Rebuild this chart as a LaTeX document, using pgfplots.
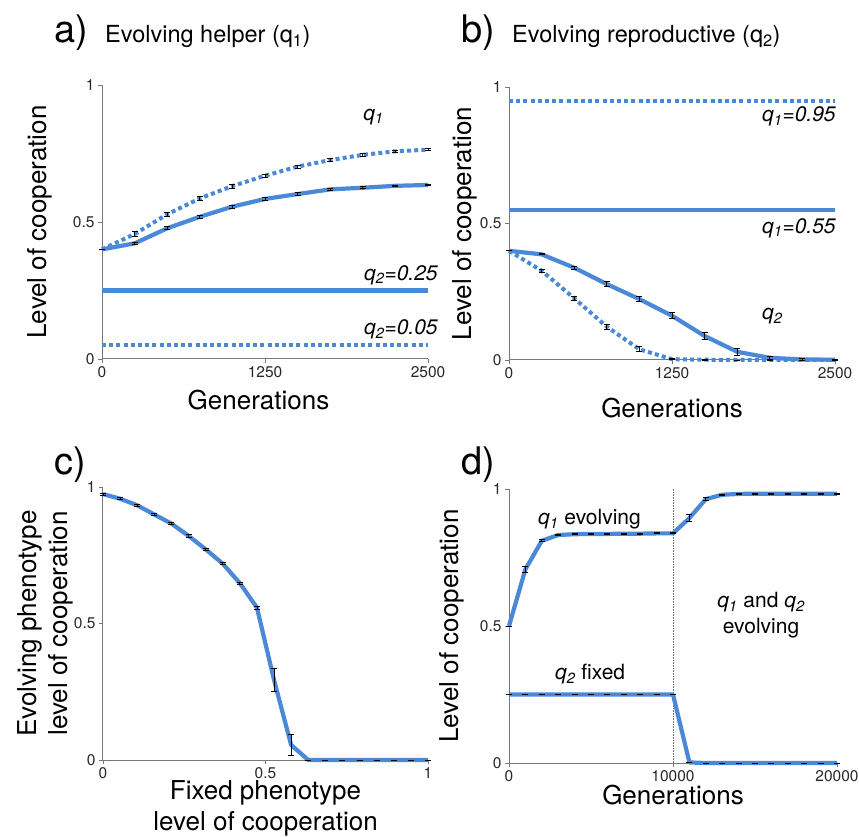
\documentclass[border=0pt]{standalone}
\usepackage{fontspec}
\setmainfont{TeX Gyre Heros}
\usepackage{pgfplots}
\pgfplotsset{compat=1.18}
\definecolor{bl}{RGB}{74,137,216}
\definecolor{axg}{RGB}{120,120,120}
\definecolor{tkc}{RGB}{40,40,40}
\pgfplotsset{
  panel/.style={scale only axis, axis lines=left, axis line style={-, draw=axg, line width=1pt},
    ymin=0, ymax=1, ytick={0,0.5,1}, yticklabels={0,0.5,1}, tick align=outside, major tick length=4pt,
    tick style={draw=axg, line width=0.8pt}, ticklabel style={font=\fontsize{15.5}{15.5}\selectfont, text=tkc},
    scaled ticks=false, /pgf/number format/assume math mode=true, /pgf/number format/1000 sep={},
    label style={font=\fontsize{26}{31}\selectfont, align=center}, clip=false, enlargelimits=false},
  eb/.style={error bars/.cd, y dir=both, y explicit, error bar style={black, line width=0.9pt, solid},
    error mark options={black, line width=0.9pt, mark size=3pt, solid, rotate=90}},
  sol/.style={bl, line width=4.2pt, line join=round, mark=none},
  dot/.style={bl, line width=4pt, dash pattern=on 4pt off 3.2pt, mark=none},
}
\tikzset{ann/.style={font=\fontsize{21}{21}\selectfont\itshape, anchor=base west, inner sep=0pt}}
\begin{document}
\begin{tikzpicture}
\useasboundingbox (0pt,0pt) rectangle (859pt,836pt);
% panel letters and titles
\node[anchor=base west, inner sep=0pt, font=\fontsize{38}{38}\selectfont] at (54pt,793pt) {a)};
\node[anchor=base west, inner sep=0pt, font=\fontsize{23.5}{23.5}\selectfont] at (105pt,793pt) {Evolving helper (q\textsubscript{1})};
\node[anchor=base west, inner sep=0pt, font=\fontsize{38}{38}\selectfont] at (461pt,793pt) {b)};
\node[anchor=base west, inner sep=0pt, font=\fontsize{23.5}{23.5}\selectfont] at (512pt,793pt) {Evolving reproductive (q\textsubscript{2})};
\node[anchor=base west, inner sep=0pt, font=\fontsize{38}{38}\selectfont] at (54pt,361pt) {c)};
\node[anchor=base west, inner sep=0pt, font=\fontsize{38}{38}\selectfont] at (461pt,361pt) {d)};

% ---------- a ----------
\begin{axis}[panel, at={(102pt,477pt)}, anchor=south west, width=326pt, height=274pt,
  xmin=0, xmax=2500, xtick={0,1250,2500},
  xlabel={Generations}, ylabel={Level of cooperation},
  xlabel style={at={(axis description cs:0.48,-0.15)}, anchor=center},
  ylabel style={at={(axis description cs:-0.19,0.5)}, anchor=center}]
\addplot[sol] coordinates {(0,0.25)(2500,0.25)};
\addplot[dot] coordinates {(0,0.05)(2500,0.05)};
\addplot[dot, eb] coordinates {
(0,0.400) +- (0,0)
(250,0.456) +- (0,0.008)
(500,0.528) +- (0,0.008)
(750,0.586) +- (0,0.008)
(1000,0.631) +- (0,0.007)
(1250,0.669) +- (0,0.006)
(1500,0.702) +- (0,0.006)
(1750,0.726) +- (0,0.005)
(2000,0.745) +- (0,0.005)
(2250,0.758) +- (0,0.004)
(2500,0.764) +- (0,0.003)};
\addplot[sol, eb] coordinates {
(0,0.400) +- (0,0)
(250,0.422) +- (0,0.004)
(500,0.477) +- (0,0.006)
(750,0.519) +- (0,0.006)
(1000,0.556) +- (0,0.006)
(1250,0.584) +- (0,0.005)
(1500,0.602) +- (0,0.005)
(1750,0.619) +- (0,0.004)
(2000,0.625) +- (0,0.004)
(2250,0.632) +- (0,0.003)
(2500,0.635) +- (0,0.003)};
\node[ann] at (axis cs:2002,0.872) {q\textsubscript{1}};
\node[ann] at (axis cs:2009,0.288) {q\textsubscript{2}=0.25};
\node[ann] at (axis cs:2009,0.088) {q\textsubscript{2}=0.05};
\end{axis}

% ---------- b ----------
\begin{axis}[panel, at={(509pt,476pt)}, anchor=south west, width=326pt, height=273pt,
  xmin=0, xmax=2500, xtick={0,1250,2500},
  xlabel={Generations}, ylabel={Level of cooperation},
  xlabel style={at={(axis description cs:0.5,-0.176)}, anchor=center},
  ylabel style={at={(axis description cs:-0.135,0.5)}, anchor=center}]
\addplot[dot] coordinates {(0,0.95)(2500,0.95)};
\addplot[sol] coordinates {(0,0.55)(2500,0.55)};
\addplot[dot, eb] coordinates {
(0,0.400) +- (0,0)
(250,0.327) +- (0,0.005)
(500,0.226) +- (0,0.008)
(750,0.122) +- (0,0.009)
(1000,0.039) +- (0,0.009)
(1250,0.003) +- (0,0.002)
(1500,0.001) +- (0,0.001)
(1750,0.000) +- (0,0)
(2000,0.000) +- (0,0)
(2250,0.000) +- (0,0)
(2500,0.000) +- (0,0)};
\addplot[sol, eb] coordinates {
(0,0.400) +- (0,0)
(250,0.387) +- (0,0.002)
(500,0.338) +- (0,0.005)
(750,0.278) +- (0,0.008)
(1000,0.223) +- (0,0.009)
(1250,0.162) +- (0,0.011)
(1500,0.088) +- (0,0.013)
(1750,0.030) +- (0,0.012)
(2000,0.008) +- (0,0.005)
(2250,0.002) +- (0,0.002)
(2500,0.001) +- (0,0.001)};
\node[ann] at (axis cs:1940,0.872) {q\textsubscript{1}=0.95};
\node[ann] at (axis cs:1940,0.465) {q\textsubscript{1}=0.55};
\node[ann] at (axis cs:1940,0.147) {q\textsubscript{2}};
\end{axis}

% ---------- c ----------
\begin{axis}[panel, at={(103pt,76pt)}, anchor=south west, width=325pt, height=273pt,
  xmin=0, xmax=1, xtick={0,0.5,1}, xticklabels={0,0.5,1},
  xlabel={Fixed phenotype\\level of cooperation}, ylabel={Evolving phenotype\\level of cooperation},
  xlabel style={at={(axis description cs:0.5,-0.176)}, anchor=center},
  ylabel style={at={(axis description cs:-0.178,0.5)}, anchor=center}]
\addplot[sol, eb] coordinates {
(0.0000,0.974) +- (0,0.004)
(0.0526,0.957) +- (0,0.004)
(0.1053,0.933) +- (0,0.004)
(0.1579,0.899) +- (0,0.004)
(0.2105,0.866) +- (0,0.004)
(0.2632,0.821) +- (0,0.004)
(0.3158,0.772) +- (0,0.004)
(0.3684,0.719) +- (0,0.004)
(0.4211,0.648) +- (0,0.004)
(0.4737,0.558) +- (0,0.005)
(0.5263,0.293) +- (0,0.042)
(0.5789,0.055) +- (0,0.040)
(0.6316,0.000) +- (0,0)
(0.6842,0.000) +- (0,0)
(0.7368,0.000) +- (0,0)
(0.7895,0.000) +- (0,0)
(0.8421,0.000) +- (0,0)
(0.8947,0.000) +- (0,0)
(0.9474,0.000) +- (0,0)
(1.0000,0.000) +- (0,0)};
\end{axis}

% ---------- d ----------
\begin{axis}[panel, at={(509pt,73pt)}, anchor=south west, width=328pt, height=274pt,
  xmin=0, xmax=20000, xtick={0,10000,20000},
  xlabel={Generations}, ylabel={Level of cooperation},
  xlabel style={at={(axis description cs:0.5,-0.117)}, anchor=center},
  ylabel style={at={(axis description cs:-0.174,0.5)}, anchor=center}]
\addplot[densely dotted, color=axg, line width=0.6pt, mark=none] coordinates {(10000,0)(10000,1)};
\addplot[sol, eb] coordinates {
(0,0.500) +- (0,0)
(1000,0.707) +- (0,0.010)
(2000,0.811) +- (0,0.004)
(3000,0.832) +- (0,0.003)
(4000,0.835) +- (0,0.002)
(5000,0.836) +- (0,0.002)
(6000,0.836) +- (0,0.002)
(7000,0.837) +- (0,0.002)
(8000,0.837) +- (0,0.002)
(9000,0.838) +- (0,0.002)
(10000,0.838) +- (0,0.002)
(11000,0.894) +- (0,0.012)
(12000,0.963) +- (0,0.005)
(13000,0.979) +- (0,0.002)
(14000,0.982) +- (0,0.002)
(15000,0.983) +- (0,0.002)
(16000,0.983) +- (0,0.002)
(17000,0.983) +- (0,0.002)
(18000,0.983) +- (0,0.002)
(19000,0.983) +- (0,0.002)
(20000,0.983) +- (0,0.002)};
\addplot[sol, eb] coordinates {
(0,0.250) +- (0,0)
(1000,0.250) +- (0,0)
(2000,0.250) +- (0,0)
(3000,0.250) +- (0,0)
(4000,0.250) +- (0,0)
(5000,0.250) +- (0,0)
(6000,0.250) +- (0,0)
(7000,0.250) +- (0,0)
(8000,0.250) +- (0,0)
(9000,0.250) +- (0,0)
(10000,0.250) +- (0,0)
(11000,0.002) +- (0,0.001)
(12000,0.000) +- (0,0)
(13000,0.000) +- (0,0)
(14000,0.000) +- (0,0)
(15000,0.000) +- (0,0)
(16000,0.000) +- (0,0)
(17000,0.000) +- (0,0)
(18000,0.000) +- (0,0)
(19000,0.000) +- (0,0)
(20000,0.000) +- (0,0)};
\node[ann] at (axis cs:1768,0.869) {q\textsubscript{1}\upshape\ evolving};
\node[ann] at (axis cs:2805,0.303) {q\textsubscript{2}\upshape\ fixed};
\node[ann, anchor=base] at (axis cs:15366,0.566) {q\textsubscript{1}\upshape{} and \itshape q\textsubscript{2}};
\node[ann, anchor=base] at (axis cs:15366,0.474) {\upshape evolving};
\end{axis}
\end{tikzpicture}
\end{document}
